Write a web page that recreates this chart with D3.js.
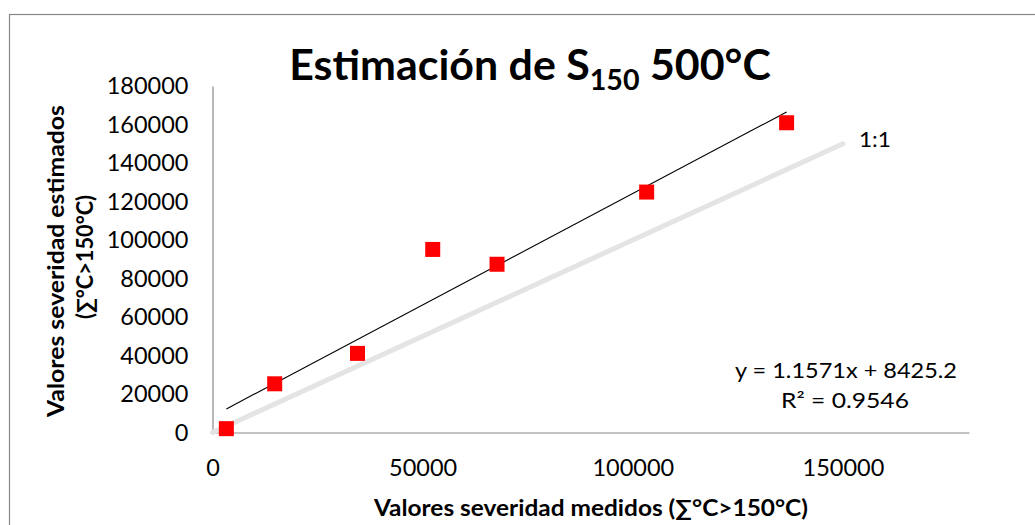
<!DOCTYPE html>
<html>
<head>
<meta charset="utf-8">
<script src="https://cdn.jsdelivr.net/npm/d3@7"></script>
<style>
  html, body { margin: 0; padding: 0; background: #fff; }
  svg { display: block; }
  text { font-family: Lato, "Open Sans", "DejaVu Sans", sans-serif; fill: #000; }
</style>
</head>
<body>
<svg id="chart" width="1035" height="525"></svg>
<script>
// ---- data ----
const measured  = [3300, 14800, 34500, 52400, 67700, 103300, 136600];
const estimated = [2000, 25300, 41100, 95100, 87400, 124900, 160900];
const xTicks = [0, 50000, 100000, 150000];
const yTicks = [0, 20000, 40000, 60000, 80000, 100000, 120000, 140000, 160000, 180000];
const xDomain = [0, 180000];
const yDomain = [0, 180000];
const trendSlope = 1.1571;
const trendIntercept = 8425.2;
const oneToOne = [0, 150000];
const titleParts = ["Estimación de S", "150", " 500°C"];
const xLabel = "Valores severidad medidos (∑°C>150°C)";
const yLabelLines = ["Valores severidad estimados", "(∑°C>150°C)"];
const equationLines = ["y = 1.1571x + 8425.2", "R² = 0.9546"];
const oneToOneLabel = "1:1";

// ---- layout ----
const svg = d3.select("#chart");
const x = d3.scaleLinear().domain(xDomain).range([212.5, 969]);
const y = d3.scaleLinear().domain(yDomain).range([432.5, 86]);

// outer chart border
svg.append("rect")
  .attr("x", 9.5).attr("y", 14.5).attr("width", 1100).attr("height", 600)
  .attr("fill", "none").attr("stroke", "#878787").attr("stroke-width", 1.2);

function fitWidth(sel, w) {
  sel.attr("textLength", w).attr("lengthAdjust", "spacingAndGlyphs");
}

// axes
const gx = svg.append("g").attr("transform", `translate(0,${y(0)})`)
  .call(d3.axisBottom(x).tickValues(xTicks).tickSize(0).tickSizeOuter(0).tickPadding(27).tickFormat(d3.format("d")));
const gy = svg.append("g").attr("transform", `translate(${x(0)},0)`)
  .call(d3.axisLeft(y).tickValues(yTicks).tickSize(0).tickSizeOuter(0).tickPadding(24).tickFormat(d3.format("d")));
[gx, gy].forEach(g => {
  g.select(".domain").attr("stroke", "#898989").attr("stroke-width", 1.2);
  g.selectAll("text").attr("font-size", 23.5).attr("font-family", "Lato, sans-serif").attr("fill", "#000");
});

// 1:1 line
svg.append("line")
  .attr("x1", x(oneToOne[0])).attr("y1", y(oneToOne[0]))
  .attr("x2", x(oneToOne[1])).attr("y2", y(oneToOne[1]))
  .attr("stroke", "#e4e4e4").attr("stroke-width", 5).attr("stroke-linecap", "round");
svg.append("text")
  .attr("x", x(oneToOne[1]) + 16).attr("y", y(oneToOne[1]) + 3)
  .attr("font-size", 20.5).text(oneToOneLabel)
  .call(fitWidth, 32);

// trend line
const xmin = d3.min(measured), xmax = d3.max(measured);
svg.append("line")
  .attr("x1", x(xmin)).attr("y1", y(trendSlope * xmin + trendIntercept))
  .attr("x2", x(xmax)).attr("y2", y(trendSlope * xmax + trendIntercept))
  .attr("stroke", "#000").attr("stroke-width", 1.1);

// markers
const ms = 15;
svg.append("g").selectAll("rect")
  .data(measured.map((m, i) => [m, estimated[i]]))
  .join("rect")
  .attr("x", d => x(d[0]) - ms / 2).attr("y", d => y(d[1]) - ms / 2)
  .attr("width", ms).attr("height", ms)
  .attr("fill", "#ff0000");

// equation
svg.append("text").attr("x", 846).attr("y", 378).attr("text-anchor", "middle")
  .attr("font-size", 20.5).text(equationLines[0]).call(fitWidth, 222);
svg.append("text").attr("x", 845).attr("y", 408).attr("text-anchor", "middle")
  .attr("font-size", 20.5).text(equationLines[1]).call(fitWidth, 128);

// title
const title = svg.append("text").attr("x", 530).attr("y", 80)
  .attr("text-anchor", "middle").attr("font-weight", "bold").attr("font-size", 42);
title.append("tspan").text(titleParts[0]);
title.append("tspan").attr("font-size", 28).attr("dy", 10).text(titleParts[1]);
title.append("tspan").attr("dy", -10).text(titleParts[2]);
{
  const bb = title.node().getBBox();
  const target = 482, cx = 530;
  const s = target / bb.width;
  title.attr("transform", `translate(${cx},0) scale(${s},1) translate(${-cx},0)`);
}

// x label
svg.append("text").attr("x", 591).attr("y", 516).attr("text-anchor", "middle")
  .attr("font-weight", "bold").attr("font-size", 22).text(xLabel).call(fitWidth, 434);

// y label
svg.append("text").attr("transform", "translate(64,261) rotate(-90)")
  .attr("text-anchor", "middle").attr("font-weight", "bold").attr("font-size", 22)
  .text(yLabelLines[0]).call(fitWidth, 312);
svg.append("text").attr("transform", "translate(93,257) rotate(-90)")
  .attr("text-anchor", "middle").attr("font-weight", "bold").attr("font-size", 22)
  .text(yLabelLines[1]).call(fitWidth, 124);
</script>
</body>
</html>
